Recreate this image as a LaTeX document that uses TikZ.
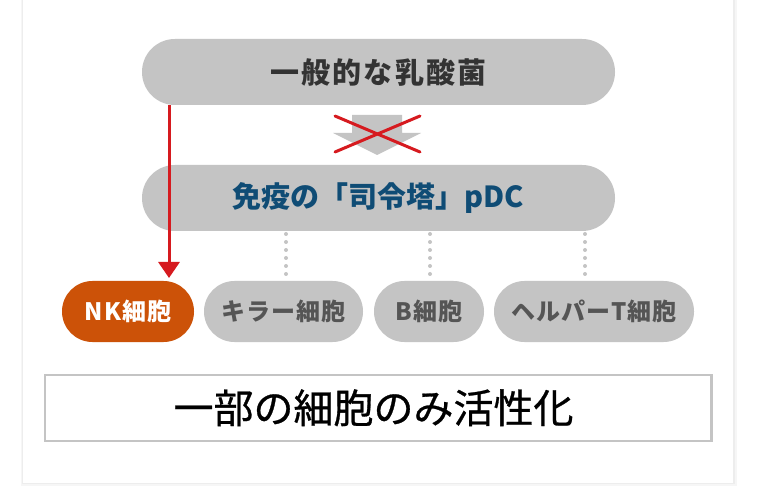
\documentclass[tikz,border=0pt]{standalone}
\usepackage{fontspec}
\newfontfamily\jp{Noto Sans CJK JP}
\usetikzlibrary{arrows.meta}
\definecolor{pillgrey}{HTML}{C4C4C4}
\definecolor{toptext}{HTML}{333333}
\definecolor{greytext}{HTML}{555555}
\definecolor{pdcblue}{HTML}{0F4C75}
\definecolor{nkorange}{HTML}{CC5208}
\definecolor{redline}{HTML}{D61A1F}
\definecolor{dotgrey}{HTML}{C4C4C4}
\definecolor{shadowA}{HTML}{F6F6F6}
\definecolor{shadowB}{HTML}{EDEDED}
\tikzset{
  pill/.style={fill=pillgrey, inner sep=0pt, outer sep=0pt},
  bigpill/.style={pill, minimum width=473pt, minimum height=66pt, rounded corners=32.9pt},
  cellpill/.style={pill, minimum height=61pt, rounded corners=30.4pt,
     font={\jp\bfseries\fontsize{24}{24}\selectfont\addfontfeature{LetterSpace=4}}, text=greytext},
  dotline/.style={draw=dotgrey, line width=4pt, line cap=round, dash pattern=on 0pt off 8pt},
  redarrow/.style={draw=redline, line width=3pt, -{Triangle[width=21pt,length=16pt]}},
  crossline/.style={draw=redline, line width=3pt, line cap=round},
  resultbox/.style={draw=pillgrey, line width=2.6pt, fill=white, inner sep=0pt},
  resulttext/.style={inner sep=0pt, font={\jp\fontsize{40}{40}\selectfont\addfontfeature{FakeBold=0.7}}, text=black},
}
\begin{document}
\begin{tikzpicture}[x=1pt,y=-1pt]
\useasboundingbox (0,0) rectangle (760,494);
\fill[white] (0,0) rectangle (760,494);
% card with soft shadow
\fill[shadowA] (20.5,-5) rectangle (736.5,486);
\fill[shadowB] (21.8,-5) rectangle (734.8,484.3);
\fill[white] (23,-5) rectangle (733,483);

% top pills
\node[bigpill, font={\jp\bfseries\fontsize{29}{29}\selectfont\addfontfeature{LetterSpace=8}}, text=toptext] (top) at (378.5,72) {一般的な乳酸菌};
\node[bigpill, font={\jp\bfseries\fontsize{29}{29}\selectfont}, text=pdcblue] (pdc) at (378.5,198) {免疫の「司令塔」pDC};

% blocked grey arrow
\fill[pillgrey] (352,115) -- (402,115) -- (402,133) -- (421,133) -- (377,155) -- (333,133) -- (352,133) -- cycle;
\coordinate (xa) at (335,116);
\coordinate (xb) at (420,152);
\coordinate (xc) at (335,152);
\coordinate (xd) at (420,116);
\draw[crossline] (xa) -- (xb);
\draw[crossline] (xc) -- (xd);

% cell pills
\node[cellpill, fill=nkorange, text=white, minimum width=132pt] (nk) at (128,311.5) {NK細胞};
\node[cellpill, minimum width=159pt] (killer) at (283.5,311.5) {キラー細胞};
\node[cellpill, minimum width=110pt] (bcell) at (429,311.5) {B細胞};
\node[cellpill, minimum width=200pt] (helper) at (594,311.5) {ヘルパーT細胞};

% dotted connectors
\coordinate (d1) at (286,0);
\coordinate (d2) at (430,0);
\coordinate (d3) at (585,0);
\draw[dotline, shorten <=3pt, shorten >=6pt] (pdc.south -| d1) -- (killer.north -| d1);
\draw[dotline, shorten <=3pt, shorten >=6pt] (pdc.south -| d2) -- (bcell.north -| d2);
\draw[dotline, shorten <=3pt, shorten >=6pt] (pdc.south -| d3) -- (helper.north -| d3);

% red arrow
\draw[redarrow, shorten >=3pt] ([xshift=27pt]top.south west) -- ([xshift=27pt]top.south west |- nk.north);

% result box
\node[resultbox, minimum width=666.5pt, minimum height=66pt] (result) at (378.25,407.8) {};
\node[resulttext] (resultlabel) at (373.5,407.8) {一部の細胞のみ活性化};
\end{tikzpicture}
\end{document}
